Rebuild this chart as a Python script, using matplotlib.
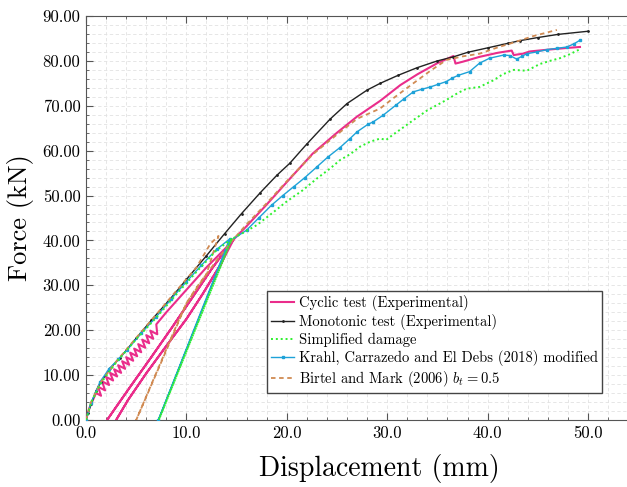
import matplotlib
matplotlib.use("Agg")
import matplotlib.pyplot as plt
from matplotlib.ticker import MultipleLocator, FormatStrFormatter

plt.rcParams["font.family"] = "serif"
plt.rcParams["font.serif"] = ["cmr10", "DejaVu Serif"]
plt.rcParams["mathtext.fontset"] = "cm"
plt.rcParams["axes.formatter.use_mathtext"] = True

# Cyclic test (experimental): hairy envelope, two reload loops, then envelope
cyc_x = [0.0, 0.3, 1.0, 1.5, 1.2, 1.9, 1.6, 2.3, 2.0, 2.7, 2.4, 3.1, 2.8, 3.5,
         3.2, 3.9, 3.6, 4.3, 4.0, 4.7, 4.4, 5.1, 4.8, 5.5, 5.2, 5.9, 5.6, 6.3,
         6.0, 6.7, 6.4, 7.1, 7.0, 8.0, 10.0, 12.0, 14.0, 14.7,
         12.5, 10.6, 8.5, 6.5, 4.5, 3.0, 2.1,
         3.0, 4.5, 6.5, 8.5, 10.6, 12.5, 14.4,
         13.5, 11.6, 10.0, 8.0, 6.0, 4.2, 3.0,
         4.2, 6.0, 8.0, 10.0, 11.6, 13.5, 14.7,
         16.0, 18.0, 20.0, 22.6, 25.0, 27.0, 29.3, 31.3, 33.0, 35.0, 36.4,
         36.6, 36.8, 37.5, 39.2, 41.0, 42.4, 42.6, 43.5, 44.2, 46.0, 48.0, 49.2]
cyc_y = [0.0, 2.5, 6.0, 5.4, 7.4, 6.6, 8.6, 7.8, 9.6, 8.8, 10.5, 9.7, 11.3,
         10.5, 12.2, 11.4, 13.1, 12.3, 14.0, 13.2, 15.0, 14.2, 15.9, 15.1, 16.9,
         16.1, 17.9, 17.1, 18.9, 18.1, 19.9, 19.1, 21.3, 24.0, 29.0, 34.0,
         38.5, 40.2,
         33.6, 27.3, 20.4, 14.0, 7.7, 2.9, 0.0,
         2.9, 7.7, 14.0, 20.4, 27.3, 33.6, 39.5,
         35.0, 28.0, 22.5, 16.5, 10.4, 4.5, 0.0,
         4.5, 10.4, 16.5, 22.5, 28.0, 35.0, 40.2,
         43.2, 48.0, 53.0, 59.4, 64.0, 67.6, 71.1, 74.6, 77.0, 79.5, 80.9,
         81.1, 79.4, 79.8, 80.9, 81.8, 82.3, 81.3, 81.6, 82.1, 82.5, 82.9, 83.1]

# Monotonic test (experimental)
mono_x = [0.0, 0.2, 0.5, 1.0, 1.5, 2.4, 3.4, 5.0, 6.5, 8.4, 10.0, 12.0, 13.8,
          15.5, 17.3, 19.0, 20.3, 22.0, 24.3, 26.0, 28.0, 29.3, 31.1, 33.0,
          35.0, 36.6, 38.0, 40.0, 42.0, 43.2, 45.0, 47.0, 50.0]
mono_y = [0.0, 1.5, 3.5, 6.5, 8.5, 11.5, 13.9, 18.2, 22.2, 27.0, 31.3, 36.6,
          41.5, 46.0, 50.5, 54.5, 57.2, 61.5, 67.0, 70.5, 73.5, 75.0, 76.8,
          78.5, 80.0, 80.9, 81.9, 82.9, 83.9, 84.5, 85.2, 85.9, 86.6]

# Simplified damage
simp_x = [0.0, 0.5, 1.5, 3.0, 5.0, 7.0, 9.0, 11.0, 13.0, 14.5, 7.25, 14.5,
          15.5, 17.0, 18.5, 20.0, 21.6, 23.0, 24.3, 25.3, 26.3, 27.3, 28.3,
          29.3, 29.9, 30.6, 31.3, 32.6, 34.0, 35.9, 37.0, 37.9, 39.2, 40.6,
          41.5, 42.6, 43.9, 45.2, 46.2, 47.2, 48.2, 49.2]
simp_y = [0.0, 3.8, 8.3, 12.8, 18.0, 22.8, 28.0, 33.0, 37.8, 40.3, 0.0, 40.3,
          41.5, 43.4, 46.0, 48.7, 51.2, 53.8, 56.0, 57.9, 59.2, 60.9, 62.0,
          62.7, 62.4, 63.6, 64.7, 66.8, 69.0, 71.3, 72.8, 73.8, 74.2, 75.7,
          77.0, 78.0, 77.8, 79.3, 80.0, 80.6, 81.5, 82.6]

# Krahl, Carrazedo and El Debs (2018) modified
krahl_x = [0.0, 0.5, 1.4, 2.3, 3.2, 4.05, 5.5, 7.0, 8.5, 10.0, 11.5, 13.0,
           14.3, 7.2, 14.3, 16.0, 17.2, 18.5, 19.6, 20.7, 21.8, 23.0, 24.1,
           25.3, 26.3, 27.0, 28.1, 28.6, 29.6, 30.9, 31.7, 32.6, 33.5, 34.3,
           35.1, 35.9, 36.5, 37.1, 38.2, 39.2, 40.2, 41.6, 42.2, 42.9, 43.4,
           43.9, 44.9, 45.9, 46.9, 47.9, 48.6, 49.2]
krahl_y = [0.0, 3.8, 8.5, 11.4, 13.5, 15.5, 19.3, 23.0, 27.0, 30.8, 34.5, 38.0,
           40.3, 0.0, 39.8, 42.3, 45.0, 47.9, 50.0, 52.0, 54.0, 56.4, 58.6,
           60.7, 62.7, 64.2, 65.9, 66.4, 67.9, 70.2, 71.6, 73.1, 73.7, 74.2,
           74.8, 75.4, 76.2, 76.8, 77.6, 79.5, 80.6, 81.3, 81.2, 80.4, 81.0,
           81.6, 82.0, 82.5, 82.8, 83.1, 83.8, 84.6]

# Birtel and Mark (2006), b_t = 0.5
birtel_x = [0.0, 0.5, 1.5, 3.0, 5.0, 7.0, 9.0, 11.0, 12.4, 13.2,
            12.0, 10.0, 8.0, 5.0,
            7.0, 9.0, 10.0, 11.0, 12.0, 13.3, 14.5,
            16.0, 18.0, 20.0, 22.6, 25.0, 27.0, 29.3, 30.5, 32.6, 34.3, 35.9,
            37.5, 39.2, 41.0, 42.6, 44.5, 46.9]
birtel_y = [0.0, 4.0, 8.5, 13.0, 18.3, 23.5, 28.8, 34.0, 39.3, 41.0,
            32.5, 26.0, 15.5, 0.0,
            10.5, 21.0, 26.0, 29.5, 32.5, 36.4, 39.8,
            43.6, 48.3, 53.2, 59.2, 63.6, 67.1, 69.4, 71.5, 75.0, 77.8, 80.2,
            81.0, 81.6, 83.0, 84.1, 85.5, 86.9]

fig = plt.figure(figsize=(6.27, 4.87), dpi=100)
ax = fig.add_axes([86 / 627, 67 / 487, 541 / 627, 404 / 487])

ax.plot(cyc_x, cyc_y, color="#ea2d8b", lw=1.5, zorder=3,
        label="Cyclic test (Experimental)")
ax.plot(mono_x, mono_y, color="#222222", lw=1.0, marker=".", ms=2.0,
        zorder=4, label="Monotonic test (Experimental)")
ax.plot(simp_x, simp_y, color="#2ef02e", lw=1.4, ls=(0, (1, 1.5)), zorder=5,
        label="Simplified damage")
ax.plot(krahl_x, krahl_y, color="#1ea2d8", lw=1.0, marker="s", ms=1.8,
        zorder=4, label="Krahl, Carrazedo and El Debs (2018) modified")
ax.plot(birtel_x, birtel_y, color="#d08a52", lw=1.3, ls=(0, (2.5, 2)),
        zorder=4, label=r"Birtel and Mark (2006) $b_t = 0.5$")

ax.set_xlim(0, 541 / 10.04)
ax.set_ylim(0, 90)
ax.xaxis.set_major_locator(MultipleLocator(10))
ax.xaxis.set_minor_locator(MultipleLocator(2))
ax.yaxis.set_major_locator(MultipleLocator(10))
ax.yaxis.set_minor_locator(MultipleLocator(2))
ax.xaxis.set_major_formatter(FormatStrFormatter("%.1f"))
ax.yaxis.set_major_formatter(FormatStrFormatter("%.2f"))

ax.grid(which="both", color="#e2e2e2", lw=0.6, ls=(0, (4, 3)))
ax.set_axisbelow(True)
ax.tick_params(which="both", direction="in", top=True, right=False,
               color="#555555", labelsize=12, pad=4)
ax.tick_params(which="major", length=5)
ax.tick_params(which="minor", length=2.5)
for side in ["left", "bottom", "top"]:
    ax.spines[side].set_color("#555555")
ax.spines["right"].set_visible(False)

ax.set_xlabel("Displacement (mm)", fontsize=20)
ax.set_ylabel("Force (kN)", fontsize=19, labelpad=6)
ax.xaxis.set_label_coords((379 - 86) / 541, -0.085)

leg = ax.legend(loc="upper left", bbox_to_anchor=(0.334, 0.32),
                borderaxespad=0, fontsize=10.5, fancybox=False,
                framealpha=1, edgecolor="#444444", handlelength=1.6,
                handletextpad=0.3, labelspacing=0.2, borderpad=0.3)
leg.get_frame().set_linewidth(1.0)

fig.savefig("out.png", dpi=100)
